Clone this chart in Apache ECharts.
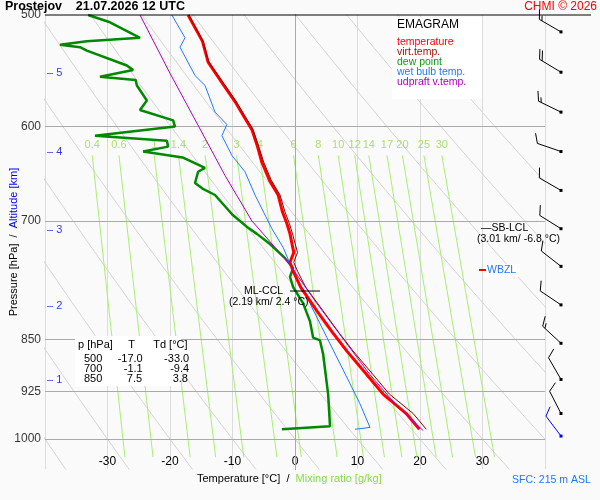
<!DOCTYPE html>
<html><head><meta charset="utf-8">
<script src="https://cdn.jsdelivr.net/npm/echarts@6/dist/echarts.min.js"></script>
<style>html,body{margin:0;padding:0;background:#fafafa}#c{width:600px;height:500px}</style>
</head><body><div id="c"></div>
<script>
const tempP = [984,959,929,900,866,840,811,780,760,749,737,726,715,703,690,671,655,636,620,603,590,576,560,540,522,500];
const tempT = [19.9,17.8,14.1,11.5,8.3,6.0,3.5,0.9,-0.3,-0.8,-0.2,-0.5,-0.8,-1.3,-2.0,-2.7,-4.1,-5.3,-6.0,-6.9,-8.2,-9.6,-11.5,-13.9,-14.8,-17.1];
const virtT = [21.0,18.9,15.1,12.5,9.3,7.0,4.5,1.7,0.4,-0.2,0.4,0.0,-0.4,-0.9,-1.6,-2.4,-3.8,-5.0,-5.8,-6.7,-8.0,-9.4,-11.3,-13.8,-14.7,-17.0];
const dewP = [984,979,929,870,851,847,825,801,780,767,756,744,727,715,708,693,671,664,658,646,642,631,625,620,614,609,600,594,584,575,561,556,553,547,543,530,527,525,522,519,506,500];
const dewT = [-2.1,5.6,5.3,4.5,4.0,2.9,2.4,1.3,-0.3,-0.8,-0.3,-1.6,-4.0,-6.1,-7.5,-10.0,-12.8,-14.8,-16.0,-15.5,-14.4,-18.0,-24.3,-20.3,-20.5,-32.0,-19.2,-19.5,-24.8,-23.7,-25.3,-25.5,-31.2,-25.9,-26.9,-33.3,-34.4,-37.6,-33.3,-24.8,-29.6,-33.1];
const wetP = [984,981,944,893,847,801,760,731,709,671,646,629,609,598,586,561,552,527,519,500];
const wetT = [9.6,12.0,10.4,7.7,5.1,2.4,-0.3,-1.9,-3.7,-6.4,-8.0,-10.1,-11.7,-10.9,-12.8,-14.4,-16.0,-18.4,-17.6,-19.7];
const updP = [986,950,900,850,800,760,750,700,650,600,550,500];
const updT = [20.5,16.6,12.0,7.8,3.4,-0.1,-1.0,-6.9,-11.2,-15.4,-20.0,-24.8];
const mixRatios = [0.4,0.6,1,1.4,2,3,4,6,8,10,12,14,17,20,25,30];
const adiabatT1000 = [-60,-50,-40,-30,-20,-10,0,10,20,30,40,50,60,70,80];
const gridP = [600,700,850,925,1000];
const pLabels = [500,600,700,850,925,1000];
const altKm = [1,2,3,4,5];
const altP = [908,804,710,625,550];
const windP = [514,549,586,625,666,709,754,803,855,907,959,995];
const windDir = [300,301,296,289,300,302,308,304,313,330,333,323];
const windKt = [15,20,15,10,10,10,10,10,15,10,10,10];

const zip = (a,b)=>a.map((v,i)=>[v,b[i]]);
const F = '"Liberation Sans", Arial, sans-serif';
const series = [];

const adP = []; for (let p=480;p<=1060;p+=20) adP.push(p);
adiabatT1000.forEach(t=>{
  const th=t+273.15;
  series.push({type:'line',silent:true,showSymbol:false,z:1,lineStyle:{color:'#d4d4d4',width:1},
    data:adP.map(p=>[th*Math.pow(p/1000,0.286)-273.15,p])});
});
function tdOf(w,p){const e=w*p/(622+w);const l=Math.log(e/6.112);return 243.5*l/(17.67-l);}
mixRatios.forEach(w=>{
  series.push({type:'line',silent:true,showSymbol:false,z:2,lineStyle:{color:'#a8f070',width:1},
    data:[[tdOf(w,1030),1030],[tdOf(w,629),629]]});
});
series.push({type:'scatter',silent:true,symbolSize:0,z:3,data:mixRatios.map(w=>[tdOf(w,629),629,w]),
  label:{show:true,position:'top',distance:5,formatter:o=>String(o.value[2]),color:'#9ad84c',fontSize:11,fontFamily:F}});
series.push({type:'scatter',symbolSize:0,z:3,data:pLabels.map(p=>[-40,p]),
  label:{show:true,position:'left',distance:4,formatter:o=>o.value[1],color:'#000',fontSize:12,fontFamily:F},
  markLine:{silent:true,symbol:'none',label:{show:false},lineStyle:{color:'#aaa',width:1,type:'solid'},
    data:gridP.map(p=>({yAxis:p})).concat([{xAxis:0}])}});
series.push({type:'scatter',symbolSize:0,z:3,data:altP.map((p,i)=>[-40,p,altKm[i]]),
  label:{show:true,position:'right',distance:2,formatter:o=>'\u2013 '+o.value[2],color:'#0000ee',fontSize:11,fontFamily:F}});
const L=(d,c,w,z)=>({type:'line',showSymbol:false,z:z,lineStyle:{color:c,width:w},data:d});
series.push(L(zip(dewT,dewP),'#008800',2.5,10));
series.push(L(zip(wetT,wetP),'#2277ff',1,11));
series.push(L(zip(tempT,tempP),'#ff0000',3,12));
series.push(L(zip(virtT,tempP),'#8b0000',1,13));
series.push(L(zip(updT,updP),'#aa00bb',1,14));
series.push({type:'line',showSymbol:false,z:15,lineStyle:{color:'#000',width:1},data:[[-0.8,785],[4.0,785]]});
series.push({type:'custom',z:20,clip:false,data:windP.map((p,i)=>[40,p,windDir[i],windKt[i]]),
  renderItem:(params,api)=>{
    const c=api.coord([api.value(0),api.value(1)]);const x0=c[0]+16,y0=c[1];
    const d=api.value(2)*Math.PI/180,s=api.value(3);
    const ux=Math.sin(d),uy=-Math.cos(d);const px=-uy,py=ux;
    const Ls=25;const col=params.dataIndex===windP.length-1?'#0000ff':'#000';
    const ch=[{type:'line',shape:{x1:x0,y1:y0,x2:x0+ux*Ls,y2:y0+uy*Ls},style:{stroke:col,lineWidth:1}},
      {type:'rect',shape:{x:x0-1.5,y:y0-1.5,width:3,height:3},style:{fill:col}}];
    let rem=s,pos=Ls;
    while(rem>=10){const bx=x0+ux*pos,by=y0+uy*pos;
      ch.push({type:'line',shape:{x1:bx,y1:by,x2:bx+px*9+ux*5,y2:by+py*9+uy*5},style:{stroke:col,lineWidth:1}});rem-=10;pos-=3;}
    if(rem>=5){const bx=x0+ux*pos,by=y0+uy*pos;
      ch.push({type:'line',shape:{x1:bx,y1:by,x2:bx+px*4.5+ux*2.5,y2:by+py*4.5+uy*2.5},style:{stroke:col,lineWidth:1}});}
    return {type:'group',children:ch};
  }});

const chart = echarts.init(document.getElementById('c'),null,{renderer:'canvas'});
const tx=(x,y,t,c,s)=>({type:'text',left:x,top:y,z:100,style:{text:t,fill:c||'#000',font:(s||11)+'px '+F}});
chart.setOption({
  animation:false,backgroundColor:'#fafafa',
  grid:{left:45,top:15,width:500,height:454},
  xAxis:{type:'value',min:-40,max:40,interval:10,axisLine:{show:false},axisTick:{show:false},
    axisLabel:{inside:true,margin:1,fontSize:12,color:'#000',fontFamily:F,formatter:v=>Math.abs(v)===40?'':v},
    splitLine:{show:true,lineStyle:{color:'#dcdcdc'}}},
  yAxis:{type:'log',logBase:10,min:500,max:1050,inverse:true,axisLine:{show:true,lineStyle:{color:'#000'}},
    axisTick:{show:false},axisLabel:{show:false},splitLine:{show:false}},
  series:series,
  graphic:[
    {type:'line',z:100,shape:{x1:45,y1:15,x2:591,y2:15},style:{stroke:'#000',lineWidth:1}},
    {type:'text',left:5,top:0,z:100,style:{text:'Prostejov    21.07.2026 12 UTC',fill:'#000',font:'bold 12.5px '+F}},
    {type:'text',right:3,top:1,z:100,style:{text:'CHMI © 2026',fill:'#ff0000',font:'12px '+F}},
    {type:'rect',z:90,shape:{x:392,y:17,width:90,height:82},style:{fill:'#fff'}},
    tx(397,19,'EMAGRAM','#000',12),
    tx(397,37,'temperature','#ff0000',10.5),
    tx(397,47,'virt.temp.','#a01010',10.5),
    tx(397,57,'dew point','#119911',10.5),
    tx(397,67,'wet bulb temp.','#2277ff',10.5),
    tx(397,77,'udpraft v.temp.','#aa00bb',10.5),
    {type:'rect',z:90,shape:{x:75,y:336,width:106,height:50},style:{fill:'#fff'}},
    tx(78,339,'p [hPa]     T      Td [°C]','#000',11),
    tx(84,353,'500     -17.0       -33.0','#000',11),
    tx(84,363,'700       -1.1         -9.4','#000',11),
    tx(84,373,'850        7.5          3.8','#000',11),
    tx(244,286,'ML-CCL','#000',10.5),
    tx(229,297,'(2.19 km/ 2.4 °C)','#000',10.5),
    tx(481,223,'\u2014SB-LCL','#000',10.5),
    tx(477,234,'(3.01 km/ -6.8 °C)','#000',10.5),
    {type:'line',z:100,shape:{x1:479,y1:270,x2:486,y2:270},style:{stroke:'#ff0000',lineWidth:2}},
    {type:'rect',z:99,shape:{x:486,y:264,width:34,height:13},style:{fill:'#fff'}},
    tx(487,265,'WBZL','#2277ff',10.5),
    {type:'text',left:197,top:473,z:100,style:{rich:{a:{fill:'#000',font:'11px '+F},b:{fill:'#88dd44',font:'11px '+F}},text:'{a|Temperature [°C]  /  }{b|Mixing ratio [g/kg]}'}},
    tx(512,475,'SFC: 215 m ASL','#2277ff',10.5),
    {type:'text',z:100,x:14,y:242,rotation:Math.PI/2,style:{align:'center',verticalAlign:'middle',
      rich:{a:{fill:'#000',font:'11px '+F},b:{fill:'#0000ee',font:'11px '+F}},text:'{a|Pressure [hPa]  /  }{b|Altitude [km]}'}}
  ]
});
</script></body></html>
